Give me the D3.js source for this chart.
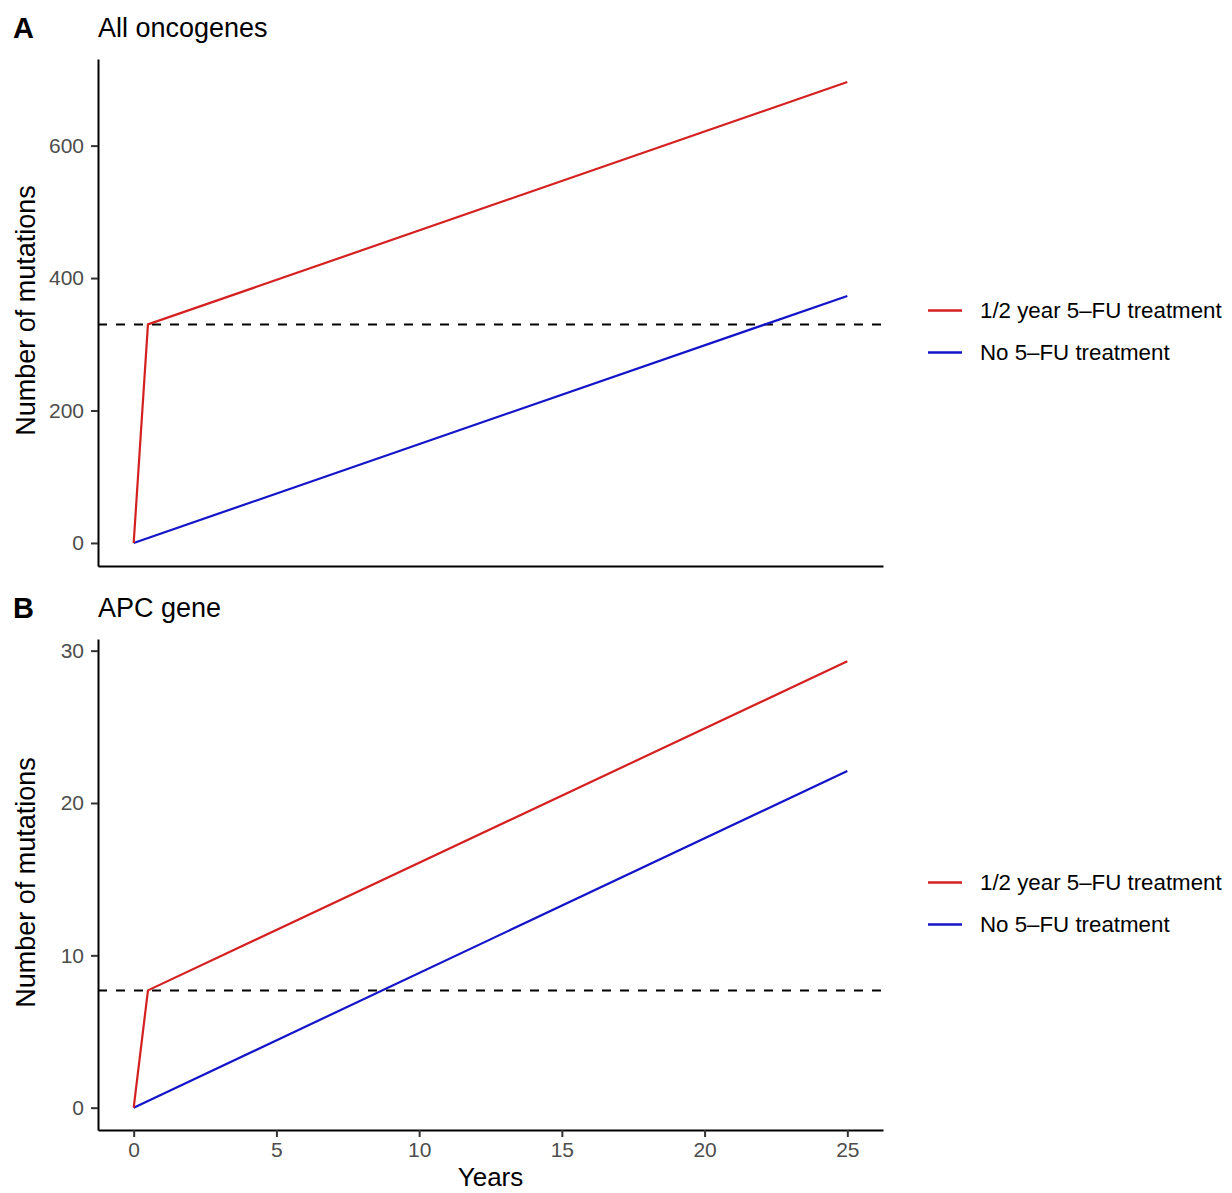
<!DOCTYPE html>
<html>
<head>
<meta charset="utf-8">
<script src="https://cdn.jsdelivr.net/npm/d3@7"></script>
<style>
  body { margin: 0; background: #fff; }
  text { font-family: "Liberation Sans", Arial, sans-serif; }
</style>
</head>
<body>
<svg id="svg1" width="1232" height="1193"></svg>
<script>
// data
const treatedYears = [0, 0.5, 25];
const untreatedYears = [0, 25];

const allTreated = [0, 330, 696];
const allUntreated = [0, 373];
const allThreshold = 330;

const apcTreated = [0, 7.7, 29.3];
const apcUntreated = [0, 22.1];
const apcThreshold = 7.7;

const xTicks = [0, 5, 10, 15, 20, 25];
const allTicks = [0, 200, 400, 600];
const apcTicks = [0, 10, 20, 30];

const seriesNames = ["1/2 year 5\u2013FU treatment", "No 5\u2013FU treatment"];
const seriesColors = ["#d42020", "#1414c8"];

const svg1 = d3.select("#svg1");

const left = 98, right = 883;

// x scale shared by both panels (ggplot style 5% expansion)
const xScale = d3.scaleLinear()
  .domain([-1.25, 26.25])
  .range([left, right]);

const panels = [
  { tag: "A", title: "All oncogenes", top: 59, bottom: 566,
    treated: allTreated, untreated: allUntreated, threshold: allThreshold,
    ticks: allTicks, showX: false },
  { tag: "B", title: "APC gene", top: 639, bottom: 1130,
    treated: apcTreated, untreated: apcUntreated, threshold: apcThreshold,
    ticks: apcTicks, showX: true }
];

const drawPanel = function(p) {
  const maxV = d3.max(p.treated.concat(p.untreated));
  const pad = maxV * 0.05;
  const yScale = d3.scaleLinear()
    .domain([-pad, maxV + pad])
    .range([p.bottom, p.top]);

  const g = svg1.append("g");

  // panel tag + title
  g.append("text")
    .attr("x", 13).attr("y", p.top - 21)
    .attr("font-size", 29).attr("font-weight", "bold")
    .text(p.tag);
  g.append("text")
    .attr("x", left).attr("y", p.top - 22)
    .attr("font-size", 27)
    .text(p.title);

  // dashed threshold
  g.append("line")
    .attr("x1", left).attr("x2", right)
    .attr("y1", yScale(p.threshold)).attr("y2", yScale(p.threshold))
    .attr("stroke", "#000").attr("stroke-width", 2)
    .attr("stroke-dasharray", "9,9");

  const line = d3.line()
    .x(d => xScale(d[0]))
    .y(d => yScale(d[1]));

  const lines = [
    d3.zip(treatedYears, p.treated),
    d3.zip(untreatedYears, p.untreated)
  ];
  // draw blue first, red on top
  [1, 0].forEach(i => {
    g.append("path")
      .datum(lines[i])
      .attr("d", line)
      .attr("fill", "none")
      .attr("stroke", seriesColors[i])
      .attr("stroke-width", 2.2);
  });

  // y axis
  const yAxis = d3.axisLeft(yScale)
    .tickValues(p.ticks)
    .tickSizeInner(7).tickSizeOuter(0)
    .tickPadding(7);
  const yA = g.append("g")
    .attr("transform", `translate(${left},0)`)
    .call(yAxis);
  yA.select(".domain").attr("stroke", "#000").attr("stroke-width", 2);
  yA.selectAll(".tick line").attr("stroke", "#333").attr("stroke-width", 2);
  yA.selectAll(".tick text")
    .attr("font-size", 21).attr("fill", "#4d4d4d")
    .style("font-family", '"Liberation Sans", Arial, sans-serif');

  // x axis
  const xAxis = d3.axisBottom(xScale)
    .tickValues(xTicks)
    .tickSizeInner(p.showX ? 7 : 0).tickSizeOuter(0)
    .tickPadding(5);
  const xA = g.append("g")
    .attr("transform", `translate(0,${p.bottom})`)
    .call(xAxis);
  xA.select(".domain").attr("stroke", "#000").attr("stroke-width", 2);
  xA.selectAll(".tick line").attr("stroke", "#333").attr("stroke-width", 2);
  xA.selectAll(".tick text")
    .attr("font-size", 21).attr("fill", "#4d4d4d")
    .style("font-family", '"Liberation Sans", Arial, sans-serif');
  if (!p.showX) xA.selectAll(".tick").remove();

  // y axis title
  const midY = (p.top + p.bottom) / 2;
  g.append("text")
    .attr("transform", `translate(35,${midY - 2}) rotate(-90)`)
    .attr("text-anchor", "middle")
    .attr("font-size", 27)
    .text("Number of mutations");

  // legend
  const legY = midY + 19;
  seriesNames.forEach((name, i) => {
    const yy = legY - 21 + i * 42;
    g.append("line")
      .attr("x1", 928).attr("x2", 962)
      .attr("y1", yy).attr("y2", yy)
      .attr("stroke", seriesColors[i]).attr("stroke-width", 2.5);
    g.append("text")
      .attr("x", 980).attr("y", yy)
      .attr("dy", "0.35em")
      .attr("font-size", 22.3)
      .text(name);
  });
};

panels.forEach(drawPanel);

// x axis title under bottom panel
svg1.append("text")
  .attr("x", (left + right) / 2).attr("y", 1186)
  .attr("text-anchor", "middle")
  .attr("font-size", 26)
  .text("Years");
</script>
</body>
</html>
